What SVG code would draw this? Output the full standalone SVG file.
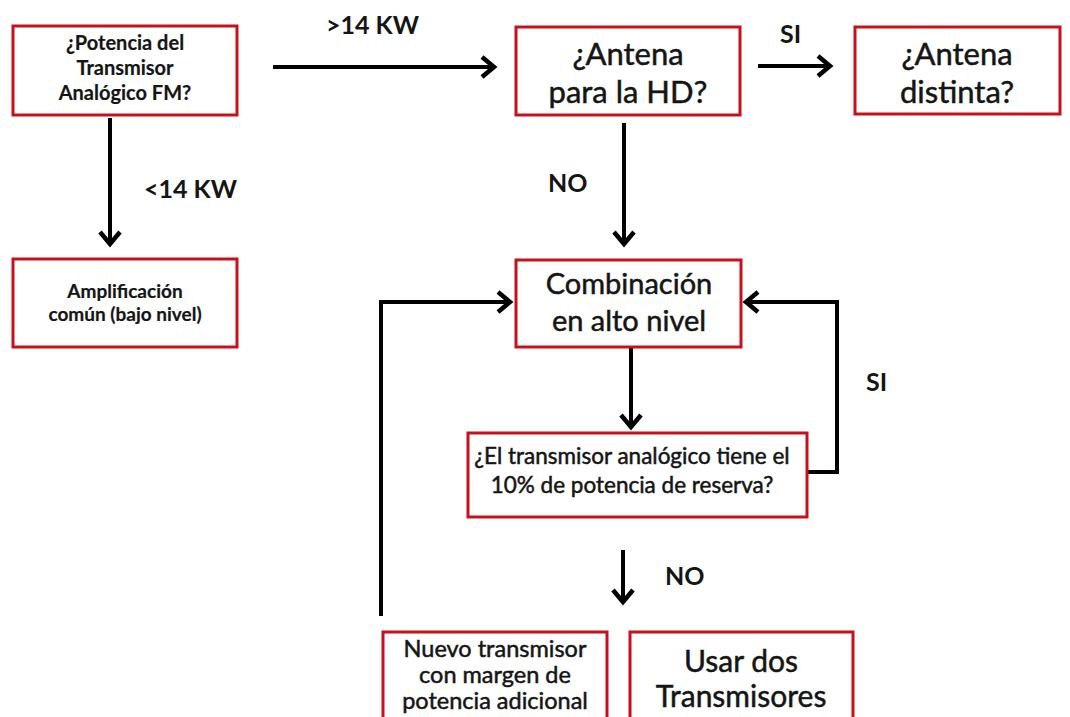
<svg xmlns="http://www.w3.org/2000/svg" width="1070" height="717" viewBox="0 0 1070 717">
  <defs>
    <style>
      .box { fill: #ffffff; stroke: #c8101c; stroke-width: 3; }
      .t { font-family: Lato, "Liberation Sans", sans-serif; fill: #151515; stroke: #151515; stroke-width: 0.5; text-anchor: middle; }
      .b { font-weight: 700; stroke-width: 0.2; }
      .lbl { font-family: Lato, "Liberation Sans", sans-serif; font-weight: 700; fill: #151515; font-size: 25px; }
      .wire { fill: none; stroke: #000000; stroke-width: 4; stroke-linejoin: miter; }
    </style>
    <marker id="chev" markerUnits="userSpaceOnUse" viewBox="-16 -12 20 24" markerWidth="20" markerHeight="24" refX="0" refY="0" orient="auto" overflow="visible">
      <path d="M-12,-10 L0,0 L-12,10" fill="none" stroke="#000000" stroke-width="4.5" stroke-linejoin="miter"/>
    </marker>
  </defs>
  <rect width="1070" height="717" fill="#ffffff"/>

  <!-- connectors -->
  <g id="connectors">
    <path class="wire" d="M273,67 H494" marker-end="url(#chev)"/>
    <path class="wire" d="M758,66 H830" marker-end="url(#chev)"/>
    <path class="wire" d="M110,118 V244" marker-end="url(#chev)"/>
    <path class="wire" d="M624,123 V244" marker-end="url(#chev)"/>
    <path class="wire" d="M631,348 V427" marker-end="url(#chev)"/>
    <path class="wire" d="M623,550 V602" marker-end="url(#chev)"/>
    <path class="wire" d="M808,472 H837 V302 H746" marker-end="url(#chev)"/>
    <path class="wire" d="M381,616 V302 H510" marker-end="url(#chev)"/>
  </g>

  <!-- edge labels -->
  <g id="labels">
    <text class="lbl" x="326" y="34">&gt;14 KW</text>
    <text class="lbl" x="780" y="43">SI</text>
    <text class="lbl" x="144" y="198">&lt;14 KW</text>
    <text class="lbl" x="548" y="192">NO</text>
    <text class="lbl" x="866" y="391">SI</text>
    <text class="lbl" x="665" y="585">NO</text>
  </g>

  <g id="potencia">
    <rect class="box" x="13" y="26" width="224" height="89"/>
    <text class="t b" font-size="20" x="125" y="50">¿Potencia del</text>
    <text class="t b" font-size="20" x="125" y="75">Transmisor</text>
    <text class="t b" font-size="20" x="125" y="100">Analógico FM?</text>
  </g>

  <g id="antena-hd">
    <rect class="box" x="516" y="27" width="224" height="88"/>
    <text class="t" font-size="31" x="628" y="65">¿Antena</text>
    <text class="t" font-size="31" x="628" y="103">para la HD?</text>
  </g>

  <g id="antena-distinta">
    <rect class="box" x="855" y="27" width="205" height="87"/>
    <text class="t" font-size="31" x="957" y="65">¿Antena</text>
    <text class="t" font-size="31" x="957" y="103">distinta?</text>
  </g>

  <g id="amplificacion">
    <rect class="box" x="13" y="259" width="224" height="88"/>
    <text class="t b" font-size="19" x="125" y="298">Amplificación</text>
    <text class="t b" font-size="19" x="125" y="321">común (bajo nivel)</text>
  </g>

  <g id="combinacion">
    <rect class="box" x="516" y="260" width="225" height="87"/>
    <text class="t" font-size="29" x="629" y="294">Combinación</text>
    <text class="t" font-size="29" x="629" y="331">en alto nivel</text>
  </g>

  <g id="reserva">
    <rect class="box" x="468" y="433" width="339" height="84"/>
    <text class="t" font-size="22.5" x="632" y="464">¿El transmisor analógico tiene el</text>
    <text class="t" font-size="22.5" x="632" y="493">10% de potencia de reserva?</text>
  </g>

  <g id="nuevo-transmisor">
    <rect class="box" x="383" y="632" width="224" height="95"/>
    <text class="t" font-size="23.5" x="495" y="657">Nuevo transmisor</text>
    <text class="t" font-size="23.5" x="495" y="683">con margen de</text>
    <text class="t" font-size="23.5" x="495" y="709">potencia adicional</text>
  </g>

  <g id="dos-transmisores">
    <rect class="box" x="630" y="632" width="223" height="95"/>
    <text class="t" font-size="30" x="741" y="672">Usar dos</text>
    <text class="t" font-size="30" x="741" y="707">Transmisores</text>
  </g>
</svg>
